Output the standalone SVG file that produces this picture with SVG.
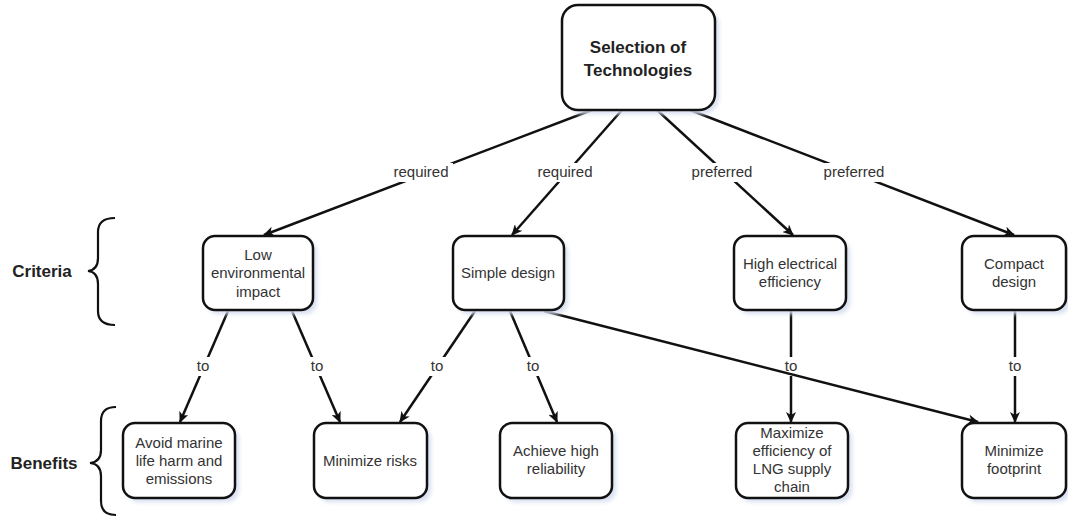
<svg xmlns="http://www.w3.org/2000/svg" width="1068" height="518" viewBox="0 0 1068 518">
<style>
.box{fill:#fff;stroke:#111;stroke-width:2.5}
.sh{fill:#d7dff0}
.t{font-family:"Liberation Sans",Arial,sans-serif;font-size:15px;fill:#333;text-anchor:middle}
.b{font-family:"Liberation Sans",Arial,sans-serif;font-weight:bold;fill:#222;text-anchor:middle}
.e{stroke:#111;stroke-width:2.5;fill:none;marker-end:url(#ah)}
.lb{fill:#fff}
.br{stroke:#111;stroke-width:2.2;fill:none}
</style>
<defs>
<marker id="ah" markerWidth="12" markerHeight="10" refX="10" refY="5" orient="auto" markerUnits="userSpaceOnUse">
<path d="M0,0 L11,5 L0,10 L3,5 Z" fill="#111"/>
</marker>
<filter id="blur" x="-10%" y="-10%" width="130%" height="130%"><feGaussianBlur stdDeviation="2"/></filter>
</defs>
<rect width="1068" height="518" fill="#fff"/>

<g id="connectors">
<line class="e" x1="592" y1="110" x2="264" y2="235"/>
<line class="e" x1="622" y1="110" x2="512" y2="235"/>
<line class="e" x1="657" y1="110" x2="793" y2="235"/>
<line class="e" x1="690" y1="110" x2="1014" y2="235"/>
<line class="e" x1="228" y1="311" x2="180" y2="422"/>
<line class="e" x1="292" y1="311" x2="340" y2="422"/>
<line class="e" x1="475" y1="311" x2="400" y2="422"/>
<line class="e" x1="510" y1="311" x2="557" y2="422"/>
<line class="e" x1="791" y1="311" x2="791" y2="422"/>
<line class="e" x1="1015" y1="311" x2="1015" y2="422"/>
<g>
<rect class="lb" x="389" y="163" width="64" height="19"/>
<text class="t" x="421" y="177">required</text>
<rect class="lb" x="533" y="163" width="64" height="19"/>
<text class="t" x="565" y="177">required</text>
<rect class="lb" x="686" y="163" width="72" height="19"/>
<text class="t" x="722" y="177">preferred</text>
<rect class="lb" x="818" y="163" width="72" height="19"/>
<text class="t" x="854" y="177">preferred</text>
<rect class="lb" x="193" y="357" width="20" height="19"/>
<text class="t" x="203" y="371">to</text>
<rect class="lb" x="307" y="357" width="20" height="19"/>
<text class="t" x="317" y="371">to</text>
<rect class="lb" x="427" y="357" width="20" height="19"/>
<text class="t" x="437" y="371">to</text>
<rect class="lb" x="523" y="357" width="20" height="19"/>
<text class="t" x="533" y="371">to</text>
<rect class="lb" x="781" y="357" width="20" height="19"/>
<text class="t" x="791" y="371">to</text>
<rect class="lb" x="1005" y="357" width="20" height="19"/>
<text class="t" x="1015" y="371">to</text>
</g>
<line class="e" x1="544" y1="311" x2="978" y2="422"/>
</g>

<g id="top">
<rect class="sh" x="566" y="9" width="153" height="105" rx="16" filter="url(#blur)"/>
<rect class="box" x="562" y="5" width="153" height="105" rx="16"/>
<text class="b" x="638" y="53" font-size="17">Selection of</text>
<text class="b" x="638" y="76" font-size="17">Technologies</text>
</g>

<g id="low-env">
<rect class="sh" x="207" y="240" width="110" height="74" rx="12" filter="url(#blur)"/>
<rect class="box" x="203" y="236" width="110" height="74" rx="12"/>
<text class="t" x="258" y="260">Low</text>
<text class="t" x="258" y="278">environmental</text>
<text class="t" x="258" y="297">impact</text>
</g>

<g id="simple">
<rect class="sh" x="457" y="240" width="111" height="74" rx="12" filter="url(#blur)"/>
<rect class="box" x="453" y="236" width="111" height="74" rx="12"/>
<text class="t" x="508" y="278">Simple design</text>
</g>

<g id="high-eff">
<rect class="sh" x="738" y="240" width="112" height="74" rx="12" filter="url(#blur)"/>
<rect class="box" x="734" y="236" width="112" height="74" rx="12"/>
<text class="t" x="790" y="269">High electrical</text>
<text class="t" x="790" y="287">efficiency</text>
</g>

<g id="compact">
<rect class="sh" x="966" y="240" width="104" height="74" rx="12" filter="url(#blur)"/>
<rect class="box" x="962" y="236" width="104" height="74" rx="12"/>
<text class="t" x="1014" y="269">Compact</text>
<text class="t" x="1014" y="287">design</text>
</g>

<g id="avoid">
<rect class="sh" x="127" y="427" width="112" height="75" rx="12" filter="url(#blur)"/>
<rect class="box" x="123" y="423" width="112" height="75" rx="12"/>
<text class="t" x="179" y="448">Avoid marine</text>
<text class="t" x="179" y="466">life harm and</text>
<text class="t" x="179" y="484">emissions</text>
</g>

<g id="min-risks">
<rect class="sh" x="318" y="427" width="113" height="75" rx="12" filter="url(#blur)"/>
<rect class="box" x="314" y="423" width="113" height="75" rx="12"/>
<text class="t" x="370" y="466">Minimize risks</text>
</g>

<g id="reliability">
<rect class="sh" x="504" y="427" width="112" height="75" rx="12" filter="url(#blur)"/>
<rect class="box" x="500" y="423" width="112" height="75" rx="12"/>
<text class="t" x="556" y="456">Achieve high</text>
<text class="t" x="556" y="474">reliability</text>
</g>

<g id="max-eff">
<rect class="sh" x="740" y="427" width="112" height="75" rx="12" filter="url(#blur)"/>
<rect class="box" x="736" y="423" width="112" height="75" rx="12"/>
<text class="t" x="792" y="438">Maximize</text>
<text class="t" x="792" y="456">efficiency of</text>
<text class="t" x="792" y="474">LNG supply</text>
<text class="t" x="792" y="492">chain</text>
</g>

<g id="footprint">
<rect class="sh" x="966" y="427" width="104" height="75" rx="12" filter="url(#blur)"/>
<rect class="box" x="962" y="423" width="104" height="75" rx="12"/>
<text class="t" x="1014" y="456">Minimize</text>
<text class="t" x="1014" y="474">footprint</text>
</g>

<g id="criteria-label">
<path class="br" d="M115,218 Q98,218 98,232 L98,258 Q98,270 88,271 Q98,272 98,284 L98,311 Q98,325 115,325"/>
<text class="b" x="42" y="277" font-size="17">Criteria</text>
</g>
<g id="benefits-label">
<path class="br" d="M116,407 Q101,407 101,421 L101,450 Q101,462 90,463 Q101,464 101,476 L101,501 Q101,515 116,515"/>
<text class="b" x="44" y="469" font-size="17">Benefits</text>
</g>
</svg>
